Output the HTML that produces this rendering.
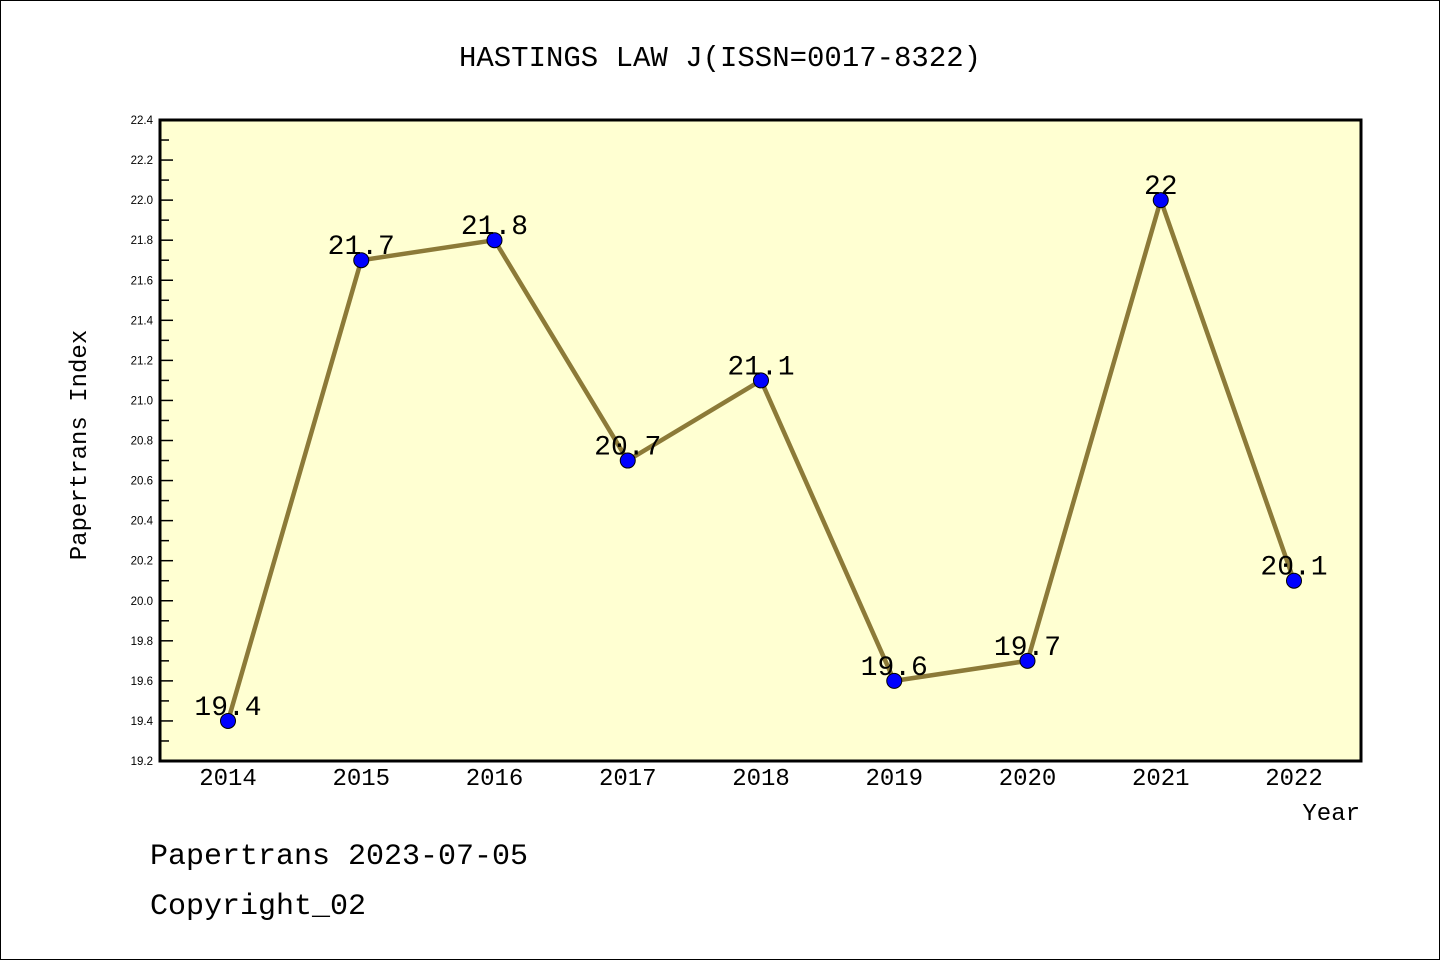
<!DOCTYPE html>
<html><head><meta charset="utf-8"><style>
html,body{margin:0;padding:0;background:#fff;}
svg{display:block;font-family:"Liberation Mono","Noto Sans CJK SC",monospace;}
</style></head><body>
<svg id="chart" width="1440" height="960">
<rect x="0.5" y="0.5" width="1439" height="959" fill="#fff" stroke="#000"/>
<text x="720" y="66" text-anchor="middle" font-size="29">HASTINGS LAW J(ISSN=0017-8322)</text>
<rect x="160" y="120" width="1201" height="641" fill="#ffffd2"/>
<g id="yaxis"></g>
<g id="xaxis"></g>
<g id="series"></g>
<rect x="160" y="120" width="1201" height="641" fill="none" stroke="#000" stroke-width="3"/>
<text x="86" y="445" text-anchor="middle" font-size="24" transform="rotate(-90 86 445)">Papertrans Index</text>
<text x="1360" y="820" text-anchor="end" font-size="24">Year</text>
<text x="150" y="864" font-size="30">Papertrans 2023-07-05</text>
<text x="150" y="914" font-size="30">Copyright_02</text>
</svg>
<script>
const years = ["2014","2015","2016","2017","2018","2019","2020","2021","2022"];
const values = [19.4,21.7,21.8,20.7,21.1,19.6,19.7,22.0,20.1];
const valueLabels = ["19.4","21.7","21.8","20.7","21.1","19.6","19.7","22","20.1"];
const yTicks = ["19.2","19.4","19.6","19.8","20.0","20.2","20.4","20.6","20.8","21.0","21.2","21.4","21.6","21.8","22.0","22.2","22.4"];
{
const NS="http://www.w3.org/2000/svg";
const yMin=19.2,yMax=22.4,plotTop=120,plotBot=761;
function yS(v){return plotBot-(v-yMin)/(yMax-yMin)*(plotBot-plotTop);}
function xS(i){return 228+i*133.25;}
function mk(t,a,p){const e=document.createElementNS(NS,t);for(const k in a)e.setAttribute(k,a[k]);p.appendChild(e);return e;}
const ya=document.getElementById('yaxis');
yTicks.forEach((t,i)=>{
  const v=parseFloat(t);const yy=yS(v);
  const l=mk('line',{x1:160,x2:173,y1:yy,y2:yy,stroke:'#000','stroke-width':1.5},ya);
  
  
  const tx=mk('text',{x:153,y:yy+4,'text-anchor':'end','font-size':11.5,'font-family':'Liberation Sans, sans-serif'},ya);
  tx.textContent=t;
  
  
  if(i<yTicks.length-1){
    const ym=yS(v+0.1);
    const m=mk('line',{x1:160,x2:169,y1:ym,y2:ym,stroke:'#000','stroke-width':1.5},ya);
    
    
  }
});
const xa=document.getElementById('xaxis');
years.forEach((yr,i)=>{
  const t=mk('text',{x:xS(i),y:785,'text-anchor':'middle','font-size':24},xa);
  t.textContent=yr;
  
  
});
const s=document.getElementById('series');
const pl=mk('polyline',{points:values.map((v,i)=>xS(i)+','+yS(v)).join(' '),fill:'none',stroke:'#8c7a38','stroke-width':4.5,'stroke-linejoin':'round'},s);


values.forEach((v,i)=>{
  const c=mk('circle',{cx:xS(i),cy:yS(v),r:7.5,fill:'#0000ff',stroke:'#000','stroke-width':1},s);
  
  
});
values.forEach((v,i)=>{
  const t=mk('text',{x:xS(i),y:yS(v)-6,'text-anchor':'middle','font-size':28},s);
  t.textContent=valueLabels[i];
  
  
});
}
</script>
</body></html>
